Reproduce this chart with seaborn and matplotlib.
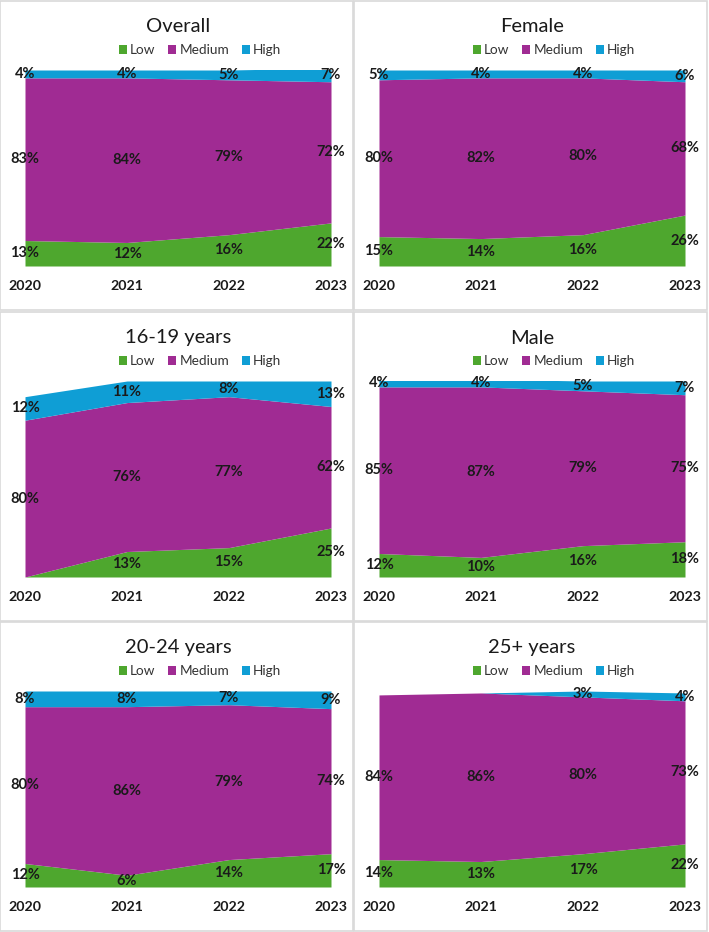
import matplotlib
matplotlib.use("Agg")
import matplotlib.pyplot as plt
from matplotlib.patches import Patch, Rectangle
import seaborn as sns

years = [2020, 2021, 2022, 2023]
levels = ["Low", "Medium", "High"]
colors = ["#4EA72E", "#A02B93", "#0F9ED5"]

titles = ["Overall", "Female", "16-19 years", "Male", "20-24 years", "25+ years"]

overall_low = [13, 12, 16, 22]
overall_med = [83, 84, 79, 72]
overall_high = [4, 4, 5, 7]

female_low = [15, 14, 16, 26]
female_med = [80, 82, 80, 68]
female_high = [5, 4, 4, 6]

y1619_low = [0, 13, 15, 25]
y1619_med = [80, 76, 77, 62]
y1619_high = [12, 11, 8, 13]

male_low = [12, 10, 16, 18]
male_med = [85, 87, 79, 75]
male_high = [4, 4, 5, 7]

y2024_low = [12, 6, 14, 17]
y2024_med = [80, 86, 79, 74]
y2024_high = [8, 8, 7, 9]

y25_low = [14, 13, 17, 22]
y25_med = [84, 86, 80, 73]
y25_high = [0, 0, 3, 4]

panels = [
    (overall_low, overall_med, overall_high),
    (female_low, female_med, female_high),
    (y1619_low, y1619_med, y1619_high),
    (male_low, male_med, male_high),
    (y2024_low, y2024_med, y2024_high),
    (y25_low, y25_med, y25_high),
]

sns.set_theme(style="white")
plt.rcParams["font.family"] = ["Lato", "DejaVu Sans"]

W, H = 709, 932
fig = plt.figure(figsize=(W / 100, H / 100), dpi=100)
fig.patch.set_facecolor("white")

col_x = [0, 354]
row_y = [0, 311, 621]
panel_w, panel_h = 354, 310

for i, (title, series) in enumerate(zip(titles, panels)):
    r, c = divmod(i, 2)
    px, py = col_x[c], row_y[r]
    # panel border
    fig.patches.append(Rectangle((px / W, 1 - (py + panel_h) / H), (panel_w - 1) / W, (panel_h - 1) / H,
                                 transform=fig.transFigure, fill=False, edgecolor="#D9D9D9", lw=1.2))
    ax = fig.add_axes([(px + 25) / W, 1 - (py + 266) / H, 306 / W, 196 / H])
    vals = [[v / 100 for v in s] for s in series]
    ax.stackplot(years, *vals, colors=colors, linewidth=0)
    ax.set_xlim(years[0], years[-1])
    ax.set_ylim(0, 1)
    ax.set_yticks([])
    ax.set_xticks(years)
    ax.set_xticklabels([str(y) for y in years], fontsize=10.2, fontweight="bold", color="#1a1a1a")
    ax.tick_params(axis="x", length=0, pad=10)
    sns.despine(ax=ax, left=True, bottom=True, top=True, right=True)
    ax.set_facecolor("none")
    # data labels
    for j, yr in enumerate(years):
        base = 0
        for k in range(3):
            v = vals[k][j]
            if v > 0:
                ax.text(yr, base + v / 2, f"{series[k][j]}%", ha="center", va="center",
                        fontsize=10.5, fontweight="bold", color="#1a1a1a", clip_on=False)
            base += v
    # title
    fig.text((px + 178) / W, 1 - (py + 27) / H, title, ha="center", va="center",
             fontsize=14.5, color="#1a1a1a")
    handles = [Patch(facecolor=col, edgecolor="none", label=lab) for col, lab in zip(colors, levels)]
    fig.legend(handles=handles, loc="center", bbox_to_anchor=((px + 200) / W, 1 - (py + 50) / H),
               ncol=3, frameon=False, fontsize=9.8, handlelength=0.6, handleheight=0.6,
               handletextpad=0.25, columnspacing=0.9, borderaxespad=0, borderpad=0,
               labelcolor="#333333")

fig.savefig("out.png", dpi=100, facecolor="white")
